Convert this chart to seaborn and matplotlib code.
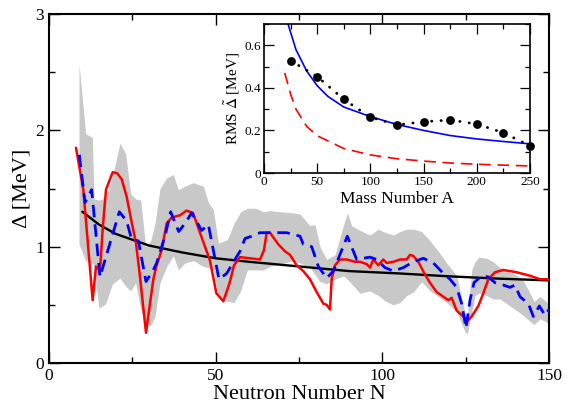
import numpy as np
import pandas as pd
import matplotlib
matplotlib.use("Agg")
import matplotlib.pyplot as plt
from matplotlib.ticker import MultipleLocator, FuncFormatter
import seaborn as sns

# ---------------- data ----------------
red_N = [8.1, 10.3, 13.1, 14.1, 15.3, 16.1, 17.1, 19.1, 20.5, 21.8, 23.3, 24.8, 26.1, 27.3, 29.1,
         31.3, 32.3, 33.8, 35.3, 36.8, 39.3, 41.3, 43.2, 45.3, 48.3, 50.2, 52.3, 54.2, 55.5, 57.3,
         60.3, 63.3, 64.5, 65.3, 66.3, 68.8, 70.8, 72.3, 74.3, 76.3, 78.3, 80.3, 82.3, 83.3, 84.3,
         84.8, 85.8, 87.3, 89.3, 91.8, 93.3, 95.3, 96.3, 97.3, 98.8, 100.3, 101.3, 103.3, 105.3,
         107.3, 108.3, 109.3, 110.8, 112.8, 114.3, 116.3, 118.3, 119.8, 120.8, 122.3, 124.3, 125.5,
         126.8, 128.8, 130.3, 131.8, 133.8, 136.3, 140.3, 144.3, 147.3, 150.0]
red_val = [1.85, 1.49, 0.54, 0.83, 0.79, 1.15, 1.49, 1.64, 1.63, 1.58, 1.43, 1.21, 1.03, 0.74, 0.26,
           0.72, 0.84, 0.97, 1.20, 1.25, 1.27, 1.31, 1.29, 1.12, 0.88, 0.60, 0.53, 0.69, 0.84, 0.91,
           0.90, 0.89, 0.97, 1.12, 1.12, 1.02, 0.96, 0.93, 0.84, 0.79, 0.72, 0.61, 0.51, 0.50, 0.46,
           0.72, 0.84, 0.89, 0.89, 0.87, 0.87, 0.85, 0.82, 0.89, 0.84, 0.89, 0.86, 0.87, 0.89,
           0.89, 0.93, 0.92, 0.87, 0.76, 0.69, 0.61, 0.57, 0.54, 0.56, 0.45, 0.40, 0.36,
           0.40, 0.49, 0.60, 0.72, 0.78, 0.80, 0.78, 0.75, 0.72, 0.72]

blue_N = [9.1, 10.8, 12.8, 15.3, 21.1, 23.3, 24.8, 26.8, 29.1, 31.3, 32.3, 34.8, 36.5, 38.9, 40.8,
          42.8, 45.8, 47.8, 51.0, 53.3, 55.8, 57.3, 58.8, 60.8, 63.3, 66.3, 71.3, 75.3, 76.3, 78.8,
          80.8, 83.3, 85.3, 89.5, 92.3, 94.3, 96.3, 98.3, 100.8, 103.3, 106.3, 109.3, 112.3, 115.3,
          118.3, 120.3, 122.3, 123.8, 125.1, 126.3, 127.5, 129.8, 131.8, 133.8, 136.3, 138.3, 139.8,
          141.3, 143.8, 145.3, 147.1, 148.8, 150.0]
blue_val = [1.79, 1.38, 1.49, 0.74, 1.30, 1.22, 1.06, 1.05, 0.70, 0.80, 0.86, 1.09, 1.30, 1.13, 1.20,
            1.29, 1.14, 1.19, 0.72, 0.77, 0.89, 0.96, 1.07, 1.09, 1.12, 1.12, 1.12, 1.09, 1.02, 1.00,
            0.83, 0.73, 0.79, 1.09, 0.89, 0.90, 0.91, 0.89, 0.82, 0.79, 0.82, 0.87, 0.90, 0.86,
            0.77, 0.72, 0.65, 0.51, 0.30, 0.54, 0.69, 0.75, 0.74, 0.69, 0.67, 0.65, 0.67,
            0.57, 0.51, 0.40, 0.49, 0.41, 0.46]

band_N = [9.0, 11.0, 13.0, 13.5, 15.0, 17.0, 19.0, 21.3, 23.0, 24.5, 26.0, 27.5, 29.0, 30.5, 31.8,
          33.3, 35.3, 37.3, 38.8, 40.8, 43.3, 46.3, 47.8, 49.3, 50.8, 53.5, 55.5, 57.5, 59.5, 62.0,
          64.3, 66.3, 69.3, 73.3, 75.3, 78.3, 79.8, 81.3, 83.3, 85.8, 88.3, 89.5, 90.8, 93.3, 96.3,
          98.8, 101.0, 103.3, 105.3, 107.3, 109.3, 111.8, 114.3, 116.8, 119.3, 122.3, 124.8, 125.5,
          126.8, 127.8, 129.0, 131.3, 133.3, 135.3, 138.3, 141.8, 143.8, 145.5, 147.3, 150.0]
band_hi = [2.57, 1.97, 1.94, 1.41, 1.40, 1.42, 1.60, 1.89, 1.80, 1.45, 1.41, 1.40, 1.00, 1.05, 1.20,
           1.50, 1.59, 1.62, 1.49, 1.52, 1.55, 1.52, 1.38, 1.32, 1.03, 1.06, 1.20, 1.30, 1.33, 1.33,
           1.30, 1.31, 1.30, 1.29, 1.28, 1.18, 1.19, 1.00, 0.89, 0.93, 1.18, 1.29, 1.18, 1.14, 1.10,
           1.15, 1.12, 1.10, 1.13, 1.15, 1.15, 1.13, 1.05, 0.96, 0.86, 0.75, 0.43, 0.40,
           0.80, 0.87, 0.91, 0.90, 0.87, 0.82, 0.78, 0.73, 0.63, 0.53, 0.57, 0.51]
band_lo = [1.02, 0.88, 0.86, 0.83, 0.47, 0.51, 0.68, 0.73, 0.66, 0.62, 0.69, 0.46, 0.34, 0.32, 0.40,
           0.69, 0.83, 0.92, 0.80, 0.86, 0.88, 0.83, 0.82, 0.80, 0.58, 0.53, 0.52, 0.62, 0.80, 0.80,
           0.80, 0.83, 0.85, 0.88, 0.86, 0.82, 0.76, 0.70, 0.68, 0.72, 0.75, 0.72, 0.68, 0.60, 0.62,
           0.58, 0.53, 0.50, 0.52, 0.58, 0.61, 0.70, 0.62, 0.57, 0.52, 0.44, 0.27, 0.25,
           0.43, 0.58, 0.60, 0.58, 0.55, 0.55, 0.49, 0.42, 0.37, 0.33, 0.38, 0.34]

black_N = [10, 15, 20, 30, 40, 50, 60, 75, 90, 105, 120, 135, 150]
black_val = [1.30, 1.19, 1.11, 1.01, 0.95, 0.90, 0.87, 0.83, 0.79, 0.77, 0.745, 0.725, 0.71]

# inset
dots_A = [25, 50, 75, 100, 125, 150, 175, 200, 225, 250]
dots_rms = [0.528, 0.453, 0.346, 0.262, 0.226, 0.241, 0.249, 0.230, 0.189, 0.128]
blue_A = [22.6, 30, 40, 50, 60, 75, 100, 125, 150, 175, 200, 225, 250]
blue_rms = [0.70, 0.58, 0.48, 0.41, 0.36, 0.31, 0.265, 0.228, 0.20, 0.176, 0.160, 0.148, 0.137]
reddash_A = [19.5, 25, 30, 40, 50, 75, 100, 125, 150, 175, 200, 225, 250]
reddash_rms = [0.47, 0.37, 0.30, 0.22, 0.175, 0.115, 0.085, 0.067, 0.056, 0.047, 0.041, 0.037, 0.033]

xlabel_main = "Neutron Number N"
ylabel_main = "Δ [MeV]"
xlabel_inset = "Mass Number A"
ylabel_inset = r"RMS $\tilde{\Delta}$ [MeV]"

# ---------------- style ----------------
sns.set_style("ticks")
plt.rcParams["font.family"] = ["Liberation Serif", "DejaVu Serif"]
plt.rcParams["mathtext.fontset"] = "stix"
plt.rcParams["axes.edgecolor"] = "black"
plt.rcParams["xtick.color"] = "black"
plt.rcParams["ytick.color"] = "black"
plt.rcParams["text.color"] = "black"
plt.rcParams["axes.labelcolor"] = "black"
for ax_ in ("xtick", "ytick"):
    plt.rcParams[f"{ax_}.direction"] = "in"

fig = plt.figure(figsize=(5.71, 4.05), dpi=100)
ax = fig.add_axes([49/571, 42/405, 500/571, 349/405])

ax.fill_between(band_N, band_lo, band_hi, color="#c8c8c8", linewidth=0, zorder=1)

df_black = pd.DataFrame({"N": black_N, "v": black_val})
df_red = pd.DataFrame({"N": red_N, "v": red_val})
df_blue = pd.DataFrame({"N": blue_N, "v": blue_val})
sns.lineplot(data=df_black, x="N", y="v", ax=ax, color="black", lw=1.7, estimator=None, zorder=3)
sns.lineplot(data=df_red, x="N", y="v", ax=ax, color="#ff0000", lw=1.8, estimator=None, zorder=4)
sns.lineplot(data=df_blue, x="N", y="v", ax=ax, color="#0000ff", lw=2.0, estimator=None, zorder=5,
             dashes=False)
ax.lines[-1].set_dashes([4.5, 2.5])

ax.set_xlim(0, 150)
ax.set_ylim(0, 3)
ax.xaxis.set_major_locator(MultipleLocator(50))
ax.xaxis.set_minor_locator(MultipleLocator(25))
ax.yaxis.set_major_locator(MultipleLocator(1))
ax.yaxis.set_minor_locator(MultipleLocator(0.5))
ax.tick_params(which="both", direction="in", top=True, right=True, labelsize=12.5, width=1.0,
               color="black")
ax.tick_params(which="major", length=8)
ax.tick_params(which="minor", length=4)
for s in ax.spines.values():
    s.set_linewidth(1.5)
    s.set_color("black")
ax.set_xlabel(xlabel_main, fontsize=16, labelpad=1)
ax.set_ylabel(ylabel_main, fontsize=16, labelpad=3)

# ---------------- inset ----------------
ins = fig.add_axes([264/571, 232/405, 266/571, 149/405])
ins.set_facecolor("white")
df_b = pd.DataFrame({"A": blue_A, "r": blue_rms})
df_r = pd.DataFrame({"A": reddash_A, "r": reddash_rms})
df_d = pd.DataFrame({"A": dots_A, "r": dots_rms})
sns.lineplot(data=df_b, x="A", y="r", ax=ins, color="#0000ff", lw=1.2, estimator=None)
sns.lineplot(data=df_r, x="A", y="r", ax=ins, color="#ff0000", lw=1.2, estimator=None)
ins.lines[-1].set_dashes([7, 4])
sns.lineplot(data=df_d, x="A", y="r", ax=ins, color="black", lw=2.0, estimator=None)
ins.lines[-1].set_dashes([0.1, 3.3])
ins.lines[-1].set_dash_capstyle("round")
sns.scatterplot(data=df_d, x="A", y="r", ax=ins, color="black", s=40, edgecolor="black",
                linewidth=0, zorder=5, clip_on=False)

ins.set_xlim(0, 250)
ins.set_ylim(0, 0.7)
ins.xaxis.set_major_locator(MultipleLocator(50))
ins.xaxis.set_minor_locator(MultipleLocator(25))
ins.yaxis.set_major_locator(MultipleLocator(0.2))
ins.yaxis.set_minor_locator(MultipleLocator(0.1))
ins.yaxis.set_major_formatter(FuncFormatter(lambda v, p: "0" if abs(v) < 1e-9 else f"{v:.1f}"))
ins.tick_params(which="both", direction="in", top=True, right=True, labelsize=9.5, width=0.9, pad=2,
                color="black")
ins.tick_params(which="major", length=7)
ins.tick_params(which="minor", length=3.5)
for s in ins.spines.values():
    s.set_linewidth(1.2)
    s.set_color("black")
ins.set_xlabel(xlabel_inset, fontsize=12.5, labelpad=2)
ins.set_ylabel(ylabel_inset, fontsize=11, labelpad=2)

fig.savefig("out.png", dpi=100)
